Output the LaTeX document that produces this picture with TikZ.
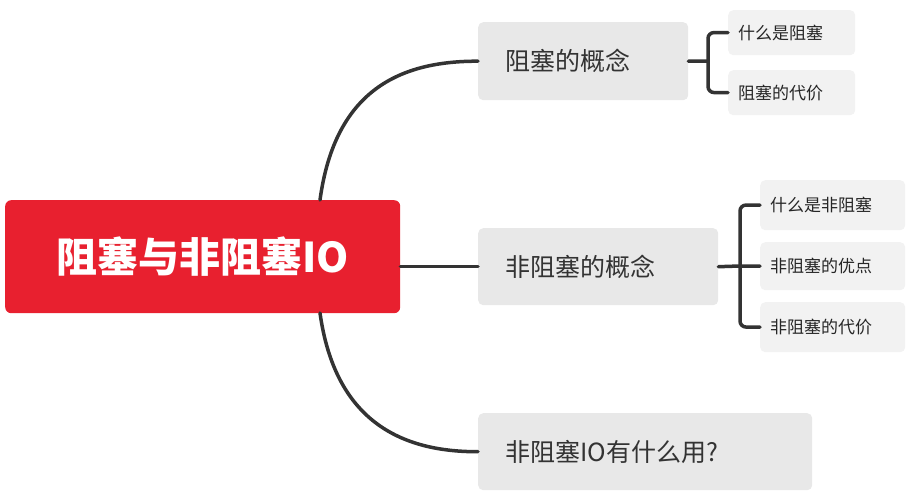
\documentclass[tikz,border=0pt]{standalone}
\usepackage{fontspec}
\setmainfont{Noto Sans CJK SC}
\definecolor{rootred}{HTML}{E8202F}
\begin{document}
\begin{tikzpicture}[x=1pt,y=-1pt,
  mid/.style={fill=gray!18,rounded corners=5pt,anchor=north west,inner ysep=0pt,inner xsep=27pt,align=left,font=\fontsize{25}{28}\selectfont,text=black!80},
  leaf/.style={fill=gray!10,rounded corners=5pt,anchor=north west,inner ysep=0pt,inner xsep=10pt,align=left,font=\fontsize{17}{20}\selectfont,text=black!85},
  conn/.style={draw=black!80,line width=3.5pt,line cap=round,rounded corners=6pt}]
\useasboundingbox (0,0) rectangle (915,502);
\node[fill=rootred,rounded corners=6pt,anchor=north west,minimum width=395pt,minimum height=113pt,inner sep=0pt,text=white,font=\fontsize{41}{44}\selectfont\bfseries] (root) at (5,200) {阻塞与非阻塞IO};
\node[mid,text width=156pt,minimum height=78pt] (a) at (478,22) {阻塞的概念};
\node[mid,text width=186pt,minimum height=77pt] (b) at (478,228) {非阻塞的概念};
\node[mid,text width=280pt,minimum height=77pt] (c) at (478,413) {非阻塞IO有什么用?};
\node[leaf,text width=107pt,minimum height=45pt] (a1) at (728,10) {什么是阻塞};
\node[leaf,text width=107pt,minimum height=45pt] (a2) at (728,70) {阻塞的代价};
\node[leaf,text width=125pt,minimum height=50pt] (b1) at (760,180) {什么是非阻塞};
\node[leaf,text width=125pt,minimum height=48pt] (b2) at (760,242) {非阻塞的优点};
\node[leaf,text width=125pt,minimum height=50pt] (b3) at (760,302) {非阻塞的代价};
\draw[conn] (320,200) .. controls (335,90) and (400,61) .. (a.west);
\draw[conn] (root.east |- b.west) -- (b.west);
\draw[conn] (320,313) .. controls (335,420) and (400,452) .. (c.west);
\draw[conn] (a.east) -- (708,61);
\draw[conn] (a1.west) -- (708,32.5) -- (708,92.5) -- (a2.west);
\draw[conn] (b.east) -- (740,266);
\draw[conn] (b1.west) -- (740,205) -- (740,327) -- (b3.west);
\draw[conn] (740,266) -- (b2.west);
\end{tikzpicture}
\end{document}
